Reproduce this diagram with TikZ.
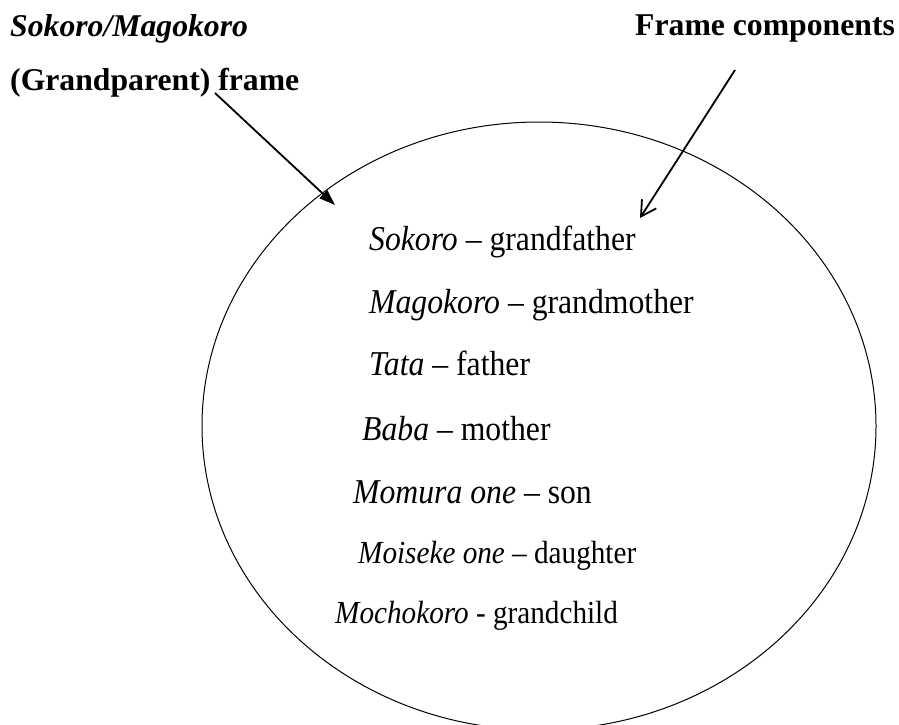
\documentclass[tikz,border=0pt]{standalone}
\usepackage{fontspec}
\setmainfont{Liberation Serif}
\usetikzlibrary{arrows.meta,shapes.geometric}

% list entries are set a little taller than wide
\newcommand{\tallentry}[1]{\scalebox{1}[1.1]{#1}}

\begin{document}
\begin{tikzpicture}[x=1pt,y=-1pt,
  heading/.style={anchor=base west, inner sep=0pt, font=\fontsize{31.7}{38}\selectfont\bfseries},
  entry/.style={anchor=base west, inner sep=0pt, font=\fontsize{31.7}{38}\selectfont},
  smallentry/.style={anchor=base west, inner sep=0pt, font=\fontsize{29.2}{35}\selectfont},
  pointer/.style={line width=1.8pt},
  framering/.style={draw, ellipse, line width=1pt, inner sep=0pt}]

  \useasboundingbox (0,0) rectangle (899,724);
  \clip (0,0) rectangle (899,724);

  % headings
  \node[heading] (title1) at (10,36) {\textit{Sokoro/Magokoro}};
  \node[heading] (title2) at (10,90) {(Grandparent) frame};
  \node[heading] (comps)  at (635,35) {Frame components};

  % the frame itself
  \node[framering, minimum width=674pt, minimum height=608pt] (frame) at (539,426) {};

  % frame components
  \node[entry] (sokoro)   at (369,250) {\tallentry{\textit{Sokoro} \textendash{} grandfather}};
  \node[entry] (magokoro) at (369,313) {\tallentry{\textit{Magokoro} \textendash{} grandmother}};
  \node[entry] (tata)     at (369,375) {\tallentry{\textit{Tata} \textendash{} father}};
  \node[entry] (baba)     at (362,440) {\tallentry{\textit{Baba} \textendash{} mother}};
  \node[entry] (momura)   at (353,503) {\tallentry{\textit{Momura one} \textendash{} son}};
  \node[smallentry] (moiseke)   at (358,563) {\tallentry{\textit{Moiseke one} \textendash{} daughter}};
  \node[smallentry] (mochokoro) at (335,623) {\tallentry{\textit{Mochokoro} - grandchild}};

  % pointer ends
  \coordinate (frametail) at (215,93);
  \coordinate (framehead) at (335,205);
  \coordinate (compstail) at (735,70);
  \coordinate (compshead) at (640,218);

  \draw[pointer, -{Triangle[length=16pt,width=11pt]}] (frametail) -- (framehead);
  \draw[pointer, -{Straight Barb[length=15pt,width=17pt]}] (compstail) -- (compshead);
\end{tikzpicture}
\end{document}
